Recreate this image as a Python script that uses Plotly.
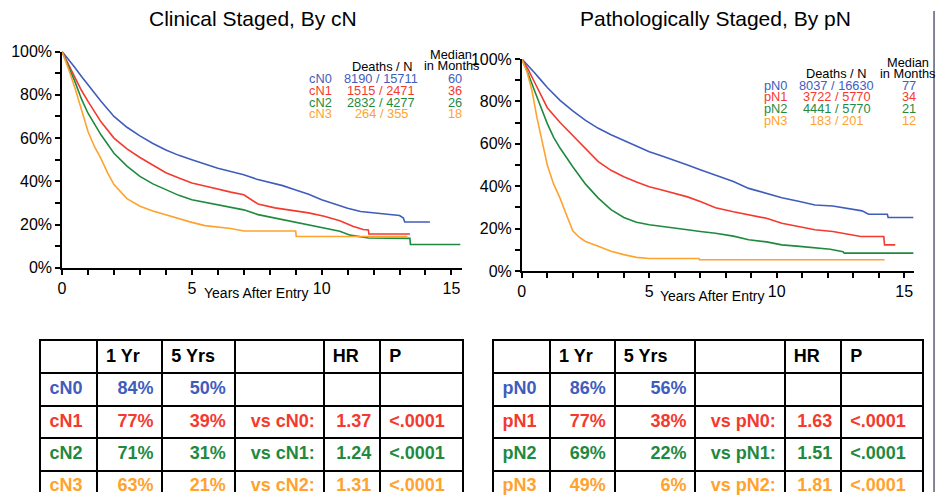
import plotly.graph_objects as go

# ---------------- data ----------------
BLUE, RED, GREEN, ORANGE = "#3f5dbd", "#f43a2f", "#1f8a3f", "#ffa22e"

cN_names = ["cN0", "cN1", "cN2", "cN3"]
cN_deaths = ["8190 / 15711", "1515 / 2471", "2832 / 4277", "264 / 355"]
cN_median = ["60", "36", "26", "18"]

cN0_t = [0, 0.25, 0.5, 0.75, 1, 1.5, 2, 2.5, 3, 3.5, 4, 4.5, 5, 5.5, 6, 6.5, 7, 7.5, 8, 8.5, 9, 9.5, 10, 10.5, 11, 11.5, 12, 12.5, 13, 13.15, 13.2, 14.17]
cN0_s = [100, 96.5, 92.5, 88.5, 84.5, 77, 70, 65, 61, 57.5, 54.5, 52, 50, 48, 46, 44.5, 43, 41, 39.5, 38, 36, 34, 31.5, 29.5, 27.5, 26, 25.3, 24.8, 24.2, 23, 21.2, 21.2]
cN1_t = [0, 0.25, 0.5, 0.75, 1, 1.5, 2, 2.5, 3, 3.5, 4, 4.5, 5, 5.5, 6, 6.5, 7, 7.55, 8.2, 8.8, 9.5, 10.1, 10.7, 11.2, 11.6, 11.8, 11.82, 13.4]
cN1_s = [100, 94, 88, 82, 77, 67.5, 60, 55, 51, 47.5, 44, 41.5, 39.2, 37.8, 36.3, 35, 33.8, 29.5, 27.7, 26.5, 25.4, 23.8, 21.8, 19.2, 17.7, 17.5, 15.6, 15.6]
cN2_t = [0, 0.25, 0.5, 0.75, 1, 1.5, 2, 2.5, 3, 3.5, 4, 4.5, 5, 6, 7, 7.55, 8.8, 9.5, 10.1, 10.7, 11.1, 11.8, 13.4, 13.42, 15.34]
cN2_s = [100, 93, 86, 78, 71.5, 61.5, 53, 47, 42.3, 38.8, 36, 33.5, 31.5, 29, 26.8, 24.6, 21.5, 20, 18.5, 16.9, 15.1, 13.8, 13.6, 10.8, 10.8]
cN3_t = [0, 0.25, 0.5, 0.75, 1, 1.25, 1.5, 1.75, 2, 2.5, 3, 3.5, 4, 4.5, 5, 5.5, 6, 6.5, 7, 9, 9.02, 13.3]
cN3_s = [100, 92, 83, 73, 63, 56, 50.5, 44, 38.5, 32, 28.5, 26.3, 24.5, 22.5, 21, 19.5, 18.8, 18.2, 17, 17, 14.5, 14.5]

pN_names = ["pN0", "pN1", "pN2", "pN3"]
pN_deaths = ["8037 / 16630", "3722 / 5770", "4441 / 5770", "183 / 201"]
pN_median = ["77", "34", "21", "12"]

pN0_t = [0, 0.25, 0.5, 0.75, 1, 1.5, 2, 2.5, 3, 3.5, 4, 4.5, 5, 5.5, 6, 6.5, 7, 7.6, 8.3, 8.9, 9.6, 10.2, 10.9, 11.5, 12.2, 12.8, 13.35, 13.6, 14.34, 14.37, 15.36]
pN0_s = [100, 97, 93.5, 90, 86.5, 80.5, 75.5, 71, 67.3, 64.3, 61.6, 59, 56.3, 54.3, 52.3, 50, 47.8, 45.3, 42.2, 39, 36.7, 34.6, 32.8, 31.2, 30.7, 29.6, 28.4, 26.8, 26.8, 25.3, 25.3]
pN1_t = [0, 0.25, 0.5, 0.75, 1, 1.5, 2, 2.5, 3, 3.5, 4, 4.5, 5, 5.5, 6, 6.5, 7, 7.6, 8.3, 8.9, 9.6, 10.2, 10.9, 11.5, 12.2, 12.8, 13.3, 14.2, 14.23, 14.65]
pN1_s = [100, 95, 89, 83, 77, 70, 64, 57.5, 51.6, 47.5, 44.5, 42, 39.8, 38.2, 36.7, 35, 32.8, 29.9, 28, 26.5, 24.9, 22.6, 21, 19.5, 18.7, 17.4, 16.3, 16.3, 12.4, 12.4]
pN2_t = [0, 0.25, 0.5, 0.75, 1, 1.25, 1.5, 2, 2.5, 3, 3.5, 4, 4.5, 5, 5.5, 6, 6.5, 7, 7.6, 8.3, 8.9, 9.6, 10.2, 10.9, 11.5, 12.1, 12.6, 12.65, 15.36]
pN2_s = [100, 93, 85, 77, 69.5, 63, 58, 49.2, 41, 34.4, 29, 25.3, 23, 21.9, 21, 20.3, 19.5, 18.7, 17.9, 16.5, 14.8, 13.8, 12.4, 11.7, 10.9, 10.3, 9.2, 8.5, 8.5]
pN3_t = [0, 0.2, 0.4, 0.6, 0.8, 1, 1.25, 1.5, 1.75, 2, 2.25, 2.5, 3, 3.5, 4, 4.5, 5, 6.95, 6.97, 14.23]
pN3_s = [100, 94, 85, 72, 61, 50, 41, 34.4, 26.6, 19, 16, 14, 11.7, 9.4, 7.8, 6.5, 6, 6, 5.4, 5.4]

# table data
tab_header = ["", "1 Yr", "5 Yrs", "", "HR", "P"]
cN_1yr = ["84%", "77%", "71%", "63%"]
cN_5yr = ["50%", "39%", "31%", "21%"]
cN_vs = ["", "vs cN0:", "vs cN1:", "vs cN2:"]
cN_hr = ["", "1.37", "1.24", "1.31"]
cN_p = ["", "<.0001", "<.0001", "<.0001"]
pN_1yr = ["86%", "77%", "69%", "49%"]
pN_5yr = ["56%", "38%", "22%", "6%"]
pN_vs = ["", "vs pN0:", "vs pN1:", "vs pN2:"]
pN_hr = ["", "1.63", "1.51", "1.81"]
pN_p = ["", "<.0001", "<.0001", "<.0001"]

x_ticks = [0, 5, 10, 15]
y_ticks = [0, 20, 40, 60, 80, 100]

# ---------------- layout constants ----------------
W, H = 946, 501
FONT = "Liberation Sans, Arial, Helvetica, sans-serif"
colors = [BLUE, RED, GREEN, ORANGE]
L_COLW = [56.7, 65.7, 72.7, 89.3, 56.7, 81.7]
R_COLW = [56.7, 65, 81, 89.7, 56.7, 81]
COL_ALIGN = ["left", "right", "right", "right", "right", "left"]
PAD = 9
# vertical placement correction measured from the rendered page
V_OFF, V_SCALE = 8.0, 0.968


def px(x):
    return x / W


def ypix(y):
    """target pixel row -> page pixel row"""
    return (y - V_OFF) / V_SCALE


def py(y):
    return 1 - ypix(y) / H


TABLE_TOP = ypix(341.7)
ROW_H = 32.5 / V_SCALE

fig = go.Figure()

left = [(cN0_t, cN0_s), (cN1_t, cN1_s), (cN2_t, cN2_s), (cN3_t, cN3_s)]
right = [(pN0_t, pN0_s), (pN1_t, pN1_s), (pN2_t, pN2_s), (pN3_t, pN3_s)]
for (t, s), c, n in zip(left, colors, cN_names):
    fig.add_trace(go.Scatter(x=t, y=s, mode="lines", line=dict(color=c, width=1.6),
                             name=n, xaxis="x", yaxis="y", showlegend=False))
for (t, s), c, n in zip(right, colors, pN_names):
    fig.add_trace(go.Scatter(x=t, y=s, mode="lines", line=dict(color=c, width=1.6),
                             name=n, xaxis="x2", yaxis="y2", showlegend=False))


def add_table(cols, colw, xa, ya):
    edges = [0]
    for w in colw:
        edges.append(edges[-1] + w)
    xs, ys, tx, cl, pos = [], [], [], [], []
    for j, h in enumerate(tab_header):
        if h:
            xs.append(edges[j] + PAD)
            ys.append(0.5)
            tx.append("<b>%s</b>" % h)
            cl.append("black")
            pos.append("middle right")
    for j, col in enumerate(cols):
        for i, v in enumerate(col):
            if not v:
                continue
            if COL_ALIGN[j] == "left":
                xs.append(edges[j] + PAD)
                pos.append("middle right")
            else:
                xs.append(edges[j + 1] - PAD)
                pos.append("middle left")
            ys.append(i + 1.5)
            tx.append("<b>%s</b>" % v)
            cl.append(colors[i])
    fig.add_trace(go.Scatter(x=xs, y=ys, text=tx, mode="text", textposition=pos,
                             textfont=dict(family=FONT, size=18, color=cl), cliponaxis=False,
                             xaxis=xa, yaxis=ya, showlegend=False, hoverinfo="skip"))
    return edges


l_edges = add_table([cN_names, cN_1yr, cN_5yr, cN_vs, cN_hr, cN_p], L_COLW, "x3", "y3")
r_edges = add_table([pN_names, pN_1yr, pN_5yr, pN_vs, pN_hr, pN_p], R_COLW, "x4", "y4")

axis_common = dict(showgrid=False, zeroline=False, showline=True, linecolor="black", linewidth=1.5,
                   ticks="outside", tickcolor="black", tickwidth=1.5,
                   tickfont=dict(family=FONT, size=16, color="black"))
xcommon = dict(axis_common, range=[0, 15.4], tickmode="array", tickvals=x_ticks,
               ticklen=5, minor=dict(dtick=1, tick0=0, ticks="outside", ticklen=5, tickcolor="black", tickwidth=1.5))
ycommon = dict(axis_common, range=[0, 100], tickmode="array", tickvals=y_ticks,
               ticktext=["%d%%" % v for v in y_ticks], ticklen=5,
               minor=dict(dtick=10, tick0=0, ticks="outside", ticklen=5, tickcolor="black", tickwidth=1.5))

rows_visible = (H - TABLE_TOP) / ROW_H


def tab_x(edges, left_px):
    return dict(domain=[px(left_px), px(left_px + edges[-1])], range=[0, edges[-1]],
                side="top", showline=True, linecolor="black", linewidth=2,
                tickmode="array", tickvals=edges[1:-1], showticklabels=False, ticks="",
                showgrid=True, gridcolor="black", gridwidth=2, zeroline=False, fixedrange=True)


def tab_y(anchor):
    return dict(domain=[0, 1 - TABLE_TOP / H], range=[rows_visible, 0], anchor=anchor,
                showline=True, mirror=True, linecolor="black", linewidth=2,
                tickmode="array", tickvals=[1, 2, 3, 4], showticklabels=False, ticks="",
                showgrid=True, gridcolor="black", gridwidth=2, zeroline=False, fixedrange=True)


fig.update_layout(
    width=W, height=H, margin=dict(l=0, r=0, t=0, b=0),
    paper_bgcolor="white", plot_bgcolor="white", showlegend=False,
    font=dict(family=FONT, color="black"),
    xaxis=dict(xcommon, domain=[px(58.3), px(58.3 + 15.4 * 26.07)], anchor="y"),
    yaxis=dict(ycommon, domain=[py(268.3), py(51.7)], anchor="x"),
    xaxis2=dict(xcommon, domain=[px(520), px(520 + 15.4 * 25.6)], anchor="y2"),
    yaxis2=dict(ycommon, domain=[py(271.7), py(59)], anchor="x2"),
    xaxis3=dict(tab_x(l_edges, 36.7), anchor="y3"),
    yaxis3=tab_y("x3"),
    xaxis4=dict(tab_x(r_edges, 491.7), anchor="y4"),
    yaxis4=tab_y("x4"),
)

ann = []


def txt(x, y, text, size=12.8, color="black", xanchor="center", xref="paper"):
    ann.append(dict(x=x, y=y, xref=xref, yref="paper", text=text, showarrow=False,
                    xanchor=xanchor, yanchor="middle",
                    font=dict(family=FONT, size=size, color=color)))


# titles
txt(px(250), py(18.5), "Clinical Staged, By cN", size=21)
txt(px(714.5), py(18.5), "Pathologically Staged, By pN", size=21)
# axis titles
txt(7.5, py(293.5), "Years After Entry", size=14, xref="x")
txt(7.5, py(296.5), "Years After Entry", size=14, xref="x2")

# left legend block
txt(px(449), py(55), "Median")
txt(px(449), py(66), "in Months")
txt(px(380), py(66.5), "Deaths / N")
for i, (n, d, m) in enumerate(zip(cN_names, cN_deaths, cN_median)):
    yy = 78.5 + i * 11.9
    txt(px(331), py(yy), n, color=colors[i], xanchor="right")
    txt(px(379), py(yy), d, color=colors[i])
    txt(px(453), py(yy), m, color=colors[i])

# right legend block
txt(px(907.5), py(62.5), "Median")
txt(px(907), py(73.5), "in Months")
txt(px(836), py(73.7), "Deaths / N")
for i, (n, d, m) in enumerate(zip(pN_names, pN_deaths, pN_median)):
    yy = 85.3 + i * 11.7
    txt(px(788.5), py(yy), n, color=colors[i], xanchor="right")
    txt(px(836.3), py(yy), d, color=colors[i])
    txt(px(909), py(yy), m, color=colors[i])

fig.update_layout(annotations=ann)

# slide edge line on the right
fig.add_shape(type="line", xref="paper", yref="paper", x0=px(934), x1=px(934), y0=0, y1=py(11),
              line=dict(color="#5c5c78", width=1.5))

POST = ("document.documentElement.style.margin='0px';document.body.style.margin='0px';"
        "document.body.style.overflow='hidden';document.documentElement.style.overflow='hidden';"
        "var d=document.getElementById('{plot_id}');d.style.position='fixed';"
        "d.style.top='0px';d.style.left='0px';")
fig.write_html("out.html", config={"displayModeBar": False}, post_script=POST)
